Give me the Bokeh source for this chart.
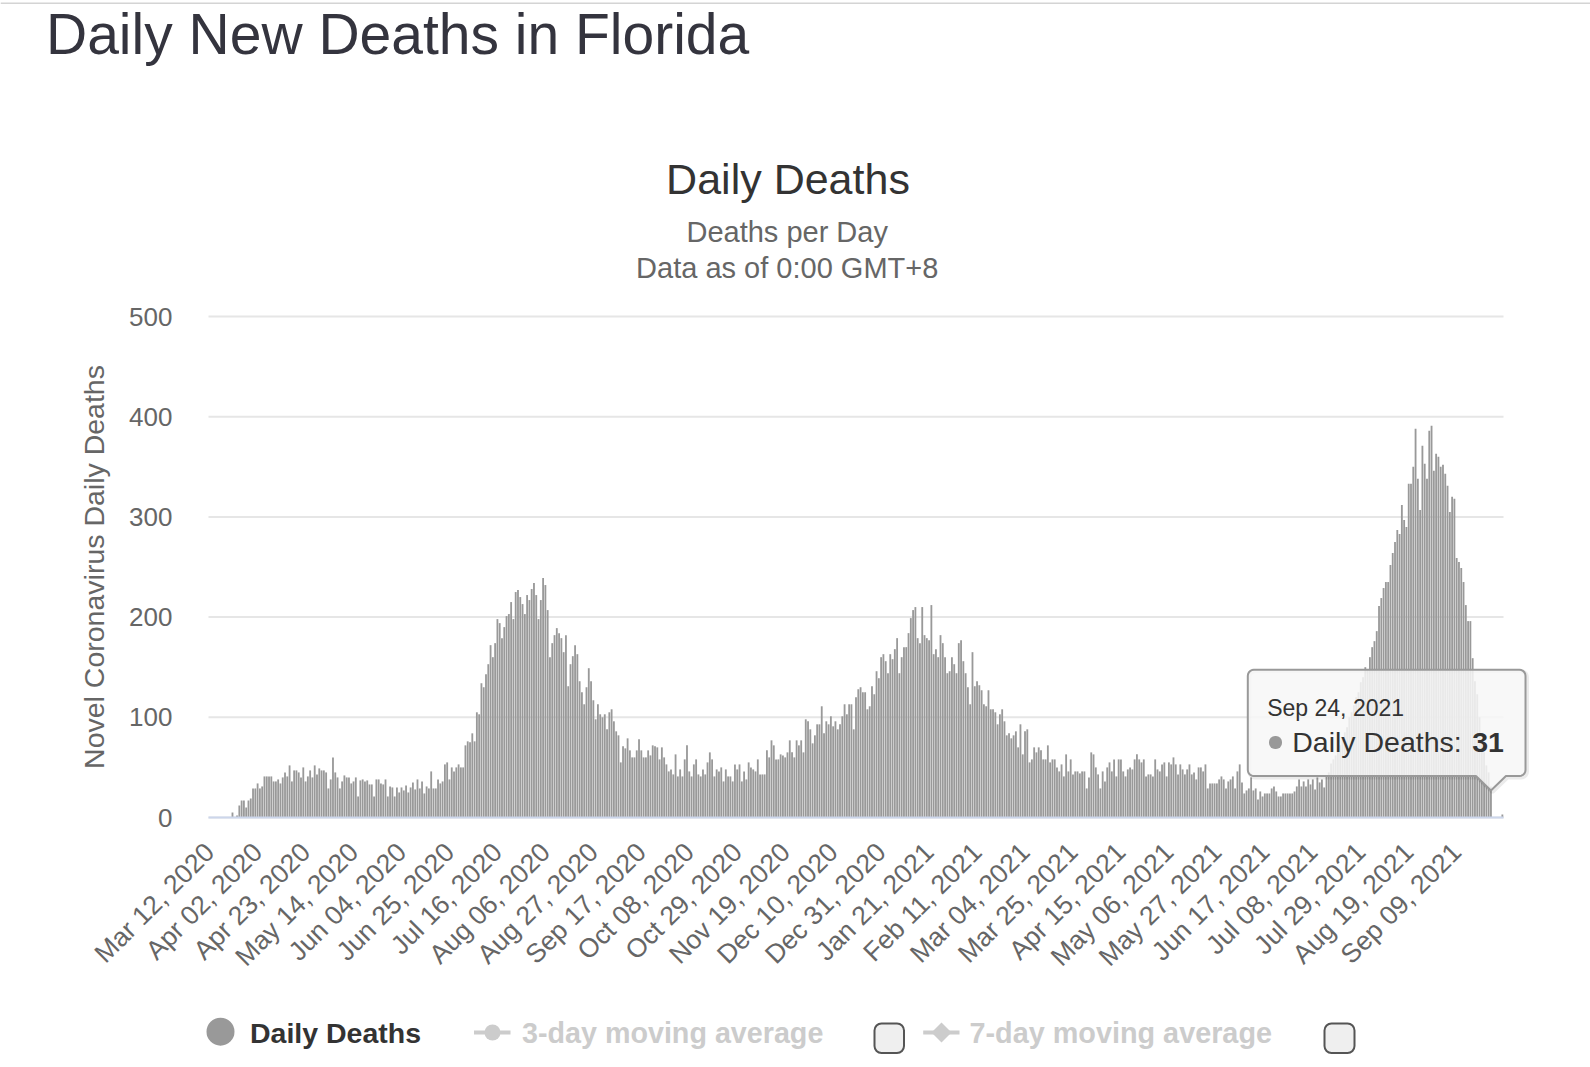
import math
import pandas as pd
from bokeh.plotting import figure
from bokeh.models import (Range1d, FixedTicker, Label, BoxAnnotation,
                          PolyAnnotation, ColumnDataSource)
from bokeh.embed import file_html
from bokeh.resources import INLINE

# ---------------- data ----------------
start_date = "2020-03-12"

daily_deaths = [
    0, 0, 0, 0, 0, 0, 0, 0, 0, 0,
    5, 0, 2, 12, 17, 17, 10, 17, 19, 29,
    29, 34, 29, 31, 41, 41, 41, 41, 36, 36,
    38, 34, 40, 45, 41, 52, 36, 47, 47, 45,
    40, 50, 36, 41, 47, 40, 52, 43, 49, 47,
    47, 45, 29, 38, 60, 45, 40, 29, 36, 42,
    40, 40, 34, 36, 40, 21, 37, 38, 36, 37,
    33, 33, 21, 38, 38, 34, 33, 38, 21, 31,
    30, 21, 30, 25, 30, 27, 32, 25, 30, 35, 28, 38,
    29, 36, 24, 31, 29, 46, 29, 29, 38, 34,
    36,
    53, 55, 38, 50, 46, 50, 53, 50, 50, 72,
    76, 75, 84, 76, 105, 103, 134, 130, 143, 153,
    172, 160, 174, 198, 194, 179,
    190,
    201, 203, 215, 198, 225, 227, 220, 213, 203, 222,
    217, 228, 234, 222, 198, 217, 239, 232, 207, 160,
    174, 182, 189, 184, 179, 165, 182, 131, 153, 161,
    172, 163, 136, 125, 113, 130, 149, 136, 117, 98,
    113, 103, 100, 103, 88, 105, 108, 96, 86, 82,
    55, 71, 69, 79, 67, 60, 60, 67,
    78, 67, 60, 60, 67, 62, 72, 71, 70, 58,
    70, 60, 53, 46, 48, 43, 63, 41, 48, 41,
    58, 72, 46, 41, 53, 58, 43, 41, 48, 43,
    55, 65, 58, 41, 48, 46, 50, 36, 48, 41,
    41, 36, 53, 48, 53, 36, 46, 38, 55,
    50,
    48, 46, 58, 43, 43, 43, 67, 60, 77, 72,
    58, 58, 63, 62, 60, 65, 77, 65, 60, 77, 72,
    77, 65, 98, 96, 88, 74, 82, 93, 93, 111,
    84, 96, 93, 101, 91, 96, 88, 93, 101, 113,
    103, 113, 113, 88, 120, 128,
    130, 125, 125, 108, 111, 131, 123, 146, 139, 160,
    163, 156, 144, 163, 158, 168, 179, 144, 160, 170,
    170, 184, 199, 207, 210, 179, 174, 210, 182, 179,
    177, 212, 163, 168, 160, 182, 174, 160, 144, 146,
    160, 153, 144, 174, 177, 156, 144,
    130,
    113, 165, 131, 136, 132, 127, 113, 111, 127, 108,
    108, 105, 93, 103, 108, 96, 82, 84, 79, 82,
    86, 70, 93, 63, 86, 88, 55, 58, 70, 65,
    70, 67, 58, 58, 72, 55, 58, 58, 50, 46,
    53, 41, 63, 46, 58, 43, 46, 46,
    44, 46, 46, 29, 40, 65, 63, 50, 43, 29,
    46, 36, 50, 55, 46, 58, 41, 58, 58, 46,
    41, 48, 50, 48, 58, 63, 58, 55, 58, 41,
    43, 43, 41, 58, 48, 46, 53, 55, 41, 55,
    53, 60, 53, 43, 53, 48, 43, 48, 53, 43,
    45,
    38, 50, 50, 46, 53, 29, 34, 34, 34, 34,
    38, 41, 38, 29, 36, 38, 41, 29, 46, 53, 35,
    24, 27, 29, 40, 27, 29, 18, 26, 21, 24,
    24, 24, 29, 31, 26, 21, 21, 24, 24, 24,
    24, 24, 26, 31, 38, 31, 36, 31, 38,
    33, 38, 28, 40, 35, 38, 30, 42, 45, 54,
    58, 62, 70, 72, 80, 85, 90, 100, 105, 112,
    120, 125, 135, 140, 150, 148, 160, 170,
    176, 186, 211, 219, 229, 235, 235, 252, 264, 275,
    287, 283, 312, 297, 290, 333, 333, 350, 388, 338,
    307, 371, 353, 338, 386, 391, 346, 363, 360, 350,
    352, 343, 331, 305, 320, 318, 259, 255, 249, 235,
    212, 196, 196, 159, 136, 123, 100, 75,
    65, 52, 45, 31, 0, 0, 0, 0, 3,
]

tick_labels = [
    "Mar 12, 2020", "Apr 02, 2020", "Apr 23, 2020", "May 14, 2020",
    "Jun 04, 2020", "Jun 25, 2020", "Jul 16, 2020", "Aug 06, 2020",
    "Aug 27, 2020", "Sep 17, 2020", "Oct 08, 2020", "Oct 29, 2020",
    "Nov 19, 2020", "Dec 10, 2020", "Dec 31, 2020", "Jan 21, 2021",
    "Feb 11, 2021", "Mar 04, 2021", "Mar 25, 2021", "Apr 15, 2021",
    "May 06, 2021", "May 27, 2021", "Jun 17, 2021", "Jul 08, 2021",
    "Jul 29, 2021", "Aug 19, 2021", "Sep 09, 2021",
]
y_ticks = [0, 100, 200, 300, 400, 500]
y_max = 500
tooltip_date = "Sep 24, 2021"

# ---------------- derived ----------------
dates = pd.date_range(start_date, periods=len(daily_deaths), freq="D")
date_labels = [d.strftime("%b %d, %Y") for d in dates]
NX = len(daily_deaths)
xs = list(range(NX))
tick_pos = [date_labels.index(t) for t in tick_labels]

# canvas and plot-area geometry (pixels)
W, H = 1590, 1067
FL, FR, FT, FB = 208, 1503, 316, 817


def dx(cx):
    return -0.5 + (cx - FL) * NX / (FR - FL)


def dy(cy):
    return (FB - cy) * y_max / (FB - FT)


def px_x(v):
    return FL + (v + 0.5) * (FR - FL) / NX


def px_y(v):
    return FB - v * (FB - FT) / y_max


p = figure(width=W, height=H, output_backend="svg", toolbar_location=None,
           x_range=Range1d(dx(0), dx(W)), y_range=Range1d(dy(H), dy(0)),
           min_border=0)
p.outline_line_color = None
p.background_fill_color = "white"
p.border_fill_color = "white"

FONT = "Liberation Sans"

# horizontal grid lines limited to the plot area
p.xgrid.visible = False
p.ygrid.visible = False
grid_src = ColumnDataSource(dict(x0=[-0.5] * len(y_ticks),
                                 x1=[NX - 0.5] * len(y_ticks),
                                 y=y_ticks))
p.segment(x0="x0", x1="x1", y0="y", y1="y", source=grid_src,
          line_color="#e6e6e6", line_width=2, level="underlay")

src = ColumnDataSource(dict(x=xs, y=daily_deaths))
p.vbar(x="x", top="y", width=0.8, source=src,
       fill_color="#999999", line_color=None)

# y axis
p.yaxis.fixed_location = -0.5
p.yaxis.bounds = (0, y_max)
p.yaxis.ticker = FixedTicker(ticks=y_ticks)
p.yaxis.axis_line_color = None
p.yaxis.major_tick_line_color = None
p.yaxis.minor_tick_line_color = None
p.yaxis.major_label_standoff = 30
p.yaxis.axis_label = "Novel Coronavirus Daily Deaths"
p.yaxis.axis_label_text_font = FONT
p.yaxis.axis_label_text_font_size = "28.5px"
p.yaxis.axis_label_text_font_style = "normal"
p.yaxis.axis_label_text_color = "#666666"
p.yaxis.axis_label_standoff = 16

# x axis
p.xaxis.fixed_location = 0
p.xaxis.bounds = (-0.5, NX - 0.5)
p.xaxis.ticker = FixedTicker(ticks=tick_pos)
p.xaxis.major_label_overrides = {pos: lab for pos, lab in zip(tick_pos, tick_labels)}
p.xaxis.major_label_orientation = math.pi / 4
p.xaxis.axis_line_color = "#ccd6eb"
p.xaxis.axis_line_width = 2
p.xaxis.major_tick_line_color = None
p.xaxis.minor_tick_line_color = None
p.xaxis.major_label_standoff = 24

p.yaxis.major_label_text_font_size = "26px"
p.xaxis.major_label_text_font_size = "26.5px"
for ax in (p.xaxis, p.yaxis):
    ax.major_label_text_font = FONT
    ax.major_label_text_color = "#666666"


# ---------------- decorations ----------------
BASE_K = 0.36  # baseline correction (fraction of font size)


def label(cx, cy, text, size, color, align="left", style="normal"):
    cy_adj = cy - BASE_K * size
    p.add_layout(Label(x=dx(cx), y=dy(cy_adj), text=text, text_font=FONT,
                       text_font_size=f"{size}px", text_color=color,
                       text_align=align, text_baseline="alphabetic",
                       text_font_style=style))


def box(l, r, t, b, fill, line=None, lw=0, radius=0, alpha=1.0):
    p.add_layout(BoxAnnotation(left=dx(l) if l is not None else None,
                               right=dx(r) if r is not None else None,
                               top=dy(t), bottom=dy(b),
                               fill_color=fill, fill_alpha=alpha,
                               line_color=line, line_width=lw, line_alpha=1.0,
                               border_radius=radius, level="annotation"))


# thin page rule at the very top
box(None, None, 2, 3.5, "#d4d4d4")

# titles
label(45.5, 54, "Daily New Deaths in Florida", 57, "#34343e")
label(787.5, 193.5, "Daily Deaths", 43, "#333333", align="center")
label(786.7, 241.7, "Deaths per Day", 29, "#666666", align="center")
label(786.7, 278.3, "Data as of 0:00 GMT+8", 29, "#666666", align="center")

# legend
LY = 1032
box(206, 234, 1017.2, 1045.2, "#999999", radius=14)
label(249.5, 1042.5, "Daily Deaths", 28.5, "#333333", style="bold")
box(473.5, 510, LY - 2, LY + 2, "#cccccc")
box(484, 500, LY - 8, LY + 8, "#cccccc", radius=8)
label(521.5, 1042.5, "3-day moving average", 28.7, "#cccccc", style="bold")
box(874, 903.5, 1023, 1052.6, "#efefef", line="#555555", lw=2, radius=7)
box(922.7, 959, LY - 2, LY + 2, "#cccccc")
cxd, hd = 941, 10
p.add_layout(PolyAnnotation(xs=[dx(cxd), dx(cxd + hd), dx(cxd), dx(cxd - hd)],
                            ys=[dy(LY - hd), dy(LY), dy(LY + hd), dy(LY)],
                            fill_color="#cccccc", fill_alpha=1.0,
                            line_color=None))
label(969, 1042.5, "7-day moving average", 28.8, "#cccccc", style="bold")
box(1324, 1354, 1023, 1052.6, "#efefef", line="#555555", lw=2, radius=7)

# tooltip
ti = date_labels.index(tooltip_date)
tip_x = px_x(ti)
tip_y = px_y(daily_deaths[ti]) + 4
L, R, T, B, RAD = 1247.3, 1525, 669.3, 775.5, 6
pw = 15


def tooltip_poly(off=0.0):
    pts = []
    corners = [(R - RAD, T + RAD, -90, 0), (R - RAD, B - RAD, 0, 90),
               (L + RAD, B - RAD, 90, 180), (L + RAD, T + RAD, 180, 270)]
    for k, (ccx, ccy, a0, a1) in enumerate(corners):
        for s in range(6):
            a = math.radians(a0 + (a1 - a0) * s / 5)
            pts.append((ccx + RAD * math.cos(a), ccy + RAD * math.sin(a)))
        if k == 1:
            pts.append((tip_x + pw, B))
            pts.append((tip_x, tip_y))
            pts.append((tip_x - pw, B))
    return [dx(a + off) for a, _ in pts], [dy(b + off) for _, b in pts]


sx_, sy_ = tooltip_poly(1.5)
p.add_layout(PolyAnnotation(xs=sx_, ys=sy_, fill_color=None, fill_alpha=0,
                            line_color="black", line_alpha=0.08, line_width=4))
tx_, ty_ = tooltip_poly(0)
p.add_layout(PolyAnnotation(xs=tx_, ys=ty_, fill_color="#f7f7f7", fill_alpha=0.85,
                            line_color="#999999", line_alpha=1.0, line_width=2))

label(1266.7, 715.5, tooltip_date, 23, "#333333")
box(1268.5, 1281.5, 735.5, 748.5, "#999999", radius=6)
label(1291.7, 752, "Daily Deaths: ", 28.5, "#333333")
label(1471.7, 752, str(daily_deaths[ti]), 28.5, "#333333", style="bold")

open("out.html", "w").write(file_html(p, INLINE))
